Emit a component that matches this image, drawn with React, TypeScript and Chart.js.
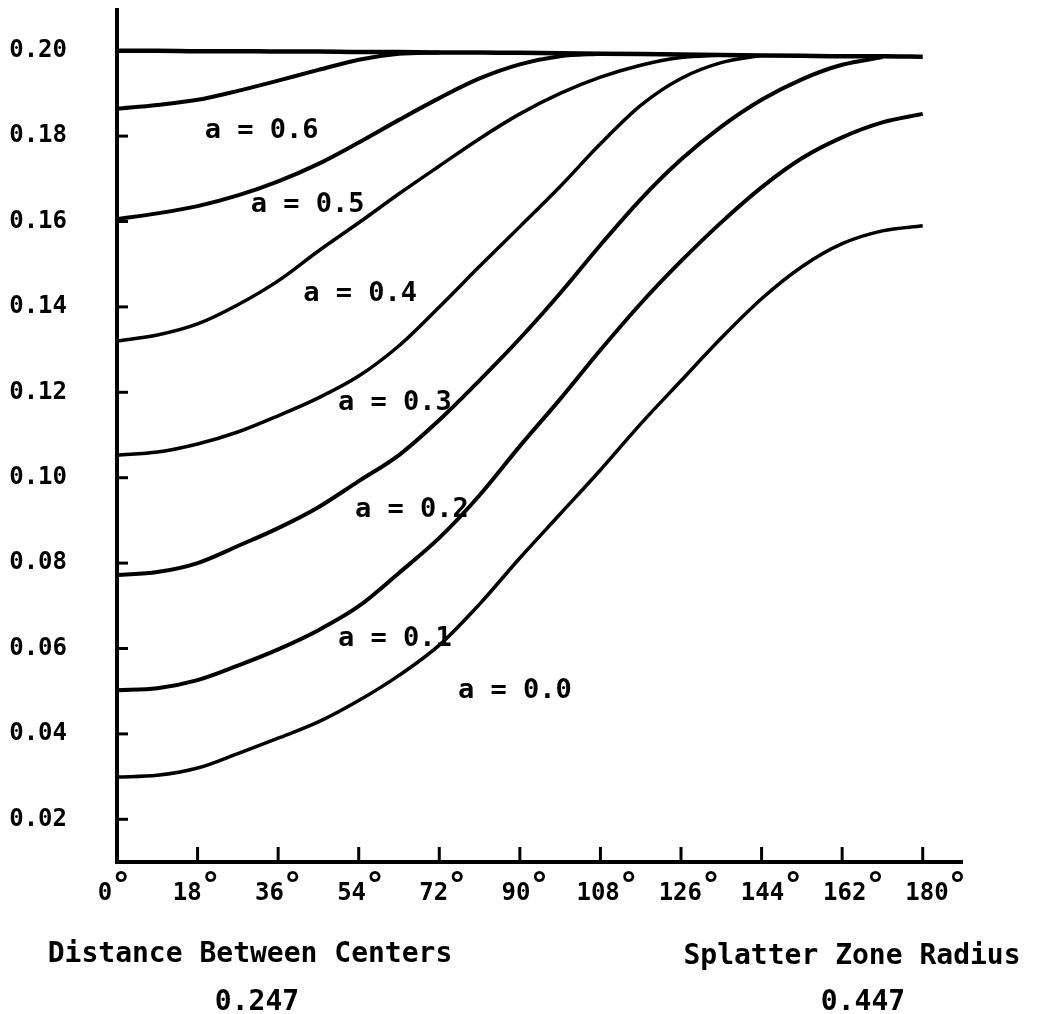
import React, { useEffect, useRef } from "react";
import { Chart, registerables } from "chart.js";

Chart.register(...registerables);

// ---- data ----
const degrees = [0, 9, 18, 27, 36, 45, 54, 63, 72, 81, 90, 99, 108, 117, 126, 135, 144, 153, 162, 171, 180];
const xTicks = [0, 18, 36, 54, 72, 90, 108, 126, 144, 162, 180];
const yTicks = [0.02, 0.04, 0.06, 0.08, 0.1, 0.12, 0.14, 0.16, 0.18, 0.2];

const topLine = [0.2, 0.2, 0.1999, 0.1999, 0.1998, 0.1998, 0.1997, 0.1997, 0.1996, 0.1996, 0.1995, 0.1994, 0.1993, 0.1992, 0.1991, 0.199, 0.1989, 0.1988, 0.1987, 0.1987, 0.1986];
const a06 = [0.1864, 0.1873, 0.1885, 0.1906, 0.193, 0.1955, 0.1979, 0.1993, 0.1996];
const a05 = [0.1606, 0.1619, 0.1636, 0.1661, 0.1694, 0.1735, 0.1785, 0.1838, 0.1889, 0.1935, 0.1968, 0.1987, 0.1993];
const a04 = [0.132, 0.1334, 0.136, 0.1405, 0.1461, 0.1531, 0.1597, 0.1665, 0.173, 0.1794, 0.1852, 0.19, 0.1938, 0.1966, 0.1984, 0.199];
const a03 = [0.1053, 0.106, 0.1079, 0.1107, 0.1145, 0.1187, 0.1238, 0.1309, 0.14, 0.1495, 0.1588, 0.1682, 0.1782, 0.1872, 0.1935, 0.1972, 0.1989];
const a02 = [0.0772, 0.0779, 0.08, 0.084, 0.0882, 0.0931, 0.0992, 0.1053, 0.1135, 0.1228, 0.1326, 0.1432, 0.1545, 0.1652, 0.1745, 0.1822, 0.1885, 0.1933, 0.1967, 0.1985];
const a01 = [0.0502, 0.0507, 0.0526, 0.056, 0.0598, 0.0643, 0.0699, 0.0777, 0.0859, 0.0959, 0.1074, 0.1184, 0.1299, 0.1408, 0.1507, 0.1598, 0.168, 0.1748, 0.1797, 0.1832, 0.1852];
const a00 = [0.0299, 0.0303, 0.032, 0.0354, 0.039, 0.0428, 0.0478, 0.0537, 0.0608, 0.0704, 0.0812, 0.0915, 0.1018, 0.1126, 0.1227, 0.1327, 0.1419, 0.1494, 0.1548, 0.1578, 0.159];

const curveNames = ["a = 0.6", "a = 0.5", "a = 0.4", "a = 0.3", "a = 0.2", "a = 0.1", "a = 0.0"];
const captionLeft = ["Distance Between Centers", "0.247"];
const captionRight = ["Splatter Zone Radius", "0.447"];

const MONO = "'DejaVu Sans Mono', 'Liberation Mono', monospace";

const toPoints = (vals: number[]) => vals.map((v, i) => ({ x: degrees[i], y: v }));

// label anchors in data space (degree, value)
const labelAnchors: [number, number][] = [
  [32.3, 0.1813],
  [42.6, 0.1639],
  [54.3, 0.143],
  [62.1, 0.1175],
  [65.9, 0.0924],
  [62.1, 0.0622],
  [88.9, 0.05],
];

const decor = {
  id: "decor",
  afterDraw(chart: any) {
    const { ctx, chartArea } = chart;
    const x = chart.scales.x;
    const y = chart.scales.y;
    const L = chartArea.left;
    const B = chartArea.bottom;
    ctx.save();
    ctx.strokeStyle = "#000";
    ctx.fillStyle = "#000";
    // axes
    ctx.lineWidth = 4;
    ctx.beginPath();
    ctx.moveTo(L, chartArea.top);
    ctx.lineTo(L, B + 2);
    ctx.stroke();
    ctx.beginPath();
    ctx.moveTo(L - 2, B);
    ctx.lineTo(chartArea.right, B);
    ctx.stroke();
    // inward tick marks
    ctx.lineWidth = 3;
    yTicks.forEach((v) => {
      const py = y.getPixelForValue(v);
      ctx.beginPath();
      ctx.moveTo(L, py);
      ctx.lineTo(L + 11, py);
      ctx.stroke();
    });
    xTicks.forEach((v) => {
      if (v === 0) return;
      const px = x.getPixelForValue(v);
      ctx.beginPath();
      ctx.moveTo(px, B);
      ctx.lineTo(px, B - 15);
      ctx.stroke();
    });
    // x tick labels with degree sign
    ctx.textBaseline = "alphabetic";
    ctx.textAlign = "center";
    xTicks.forEach((v) => {
      const cx = x.getPixelForValue(v) - 12 + v * 0.09;
      const s = String(v);
      ctx.font = `bold 24px ${MONO}`;
      const w = ctx.measureText(s).width;
      ctx.fillText(s, cx, B + 38);
      ctx.font = `bold 34px ${MONO}`;
      ctx.fillText("°", cx + w / 2 + 9, B + 34);
    });
    // curve labels
    ctx.font = `bold 27px ${MONO}`;
    ctx.textBaseline = "middle";
    curveNames.forEach((name, i) => {
      const [d, val] = labelAnchors[i];
      ctx.fillText(name, x.getPixelForValue(d), y.getPixelForValue(val));
    });
    // captions
    ctx.font = `bold 28px ${MONO}`;
    ctx.textBaseline = "alphabetic";
    ctx.fillText(captionLeft[0], 250, 962);
    ctx.fillText(captionLeft[1], 257, 1010);
    ctx.fillText(captionRight[0], 852, 964);
    ctx.fillText(captionRight[1], 863, 1010);
    ctx.restore();
  },
};

export default function App() {
  const ref = useRef<HTMLCanvasElement | null>(null);
  useEffect(() => {
    document.body.style.margin = "0";
    const canvas = ref.current;
    if (!canvas) return;
    const mk = (vals: number[], w = 4) => ({
      data: toPoints(vals),
      borderColor: "#000",
      borderWidth: w,
      pointRadius: 0,
      fill: false,
      cubicInterpolationMode: "monotone" as const,
    });
    const chart = new Chart(canvas, {
      type: "line",
      data: {
        datasets: [mk(topLine, 4.5), mk(a06), mk(a05), mk(a04, 3.5), mk(a03, 3.5), mk(a02, 4), mk(a01, 4), mk(a00, 3.5)],
      },
      options: {
        animation: false,
        responsive: true,
        maintainAspectRatio: false,
        layout: { padding: { top: 8, right: 75, left: 0, bottom: 0 } },
        plugins: { legend: { display: false }, tooltip: { enabled: false } },
        scales: {
          x: {
            type: "linear",
            min: 0,
            max: 189,
            grid: { display: false },
            border: { display: false },
            ticks: { display: false },
            afterBuildTicks: (s: any) => {
              s.ticks = xTicks.map((v) => ({ value: v }));
            },
            afterFit: (s: any) => {
              s.height = 152;
              s.paddingLeft = 0;
              s.paddingRight = 0;
            },
          },
          y: {
            type: "linear",
            min: 0.01,
            max: 0.21,
            grid: { display: false },
            border: { display: false },
            afterBuildTicks: (s: any) => {
              s.ticks = yTicks.map((v) => ({ value: v }));
            },
            afterFit: (s: any) => {
              s.width = 117;
              s.paddingTop = 0;
              s.paddingBottom = 0;
            },
            ticks: {
              padding: 42,
              color: "#000",
              font: { family: MONO, size: 24, weight: "bold" },
              callback: (v: any) => Number(v).toFixed(2),
            },
          },
        },
      },
      plugins: [decor],
    });
    return () => chart.destroy();
  }, []);
  return (
    <div style={{ position: "relative", width: 1038, height: 1014, background: "#fff" }}>
      <canvas ref={ref} />
    </div>
  );
}
